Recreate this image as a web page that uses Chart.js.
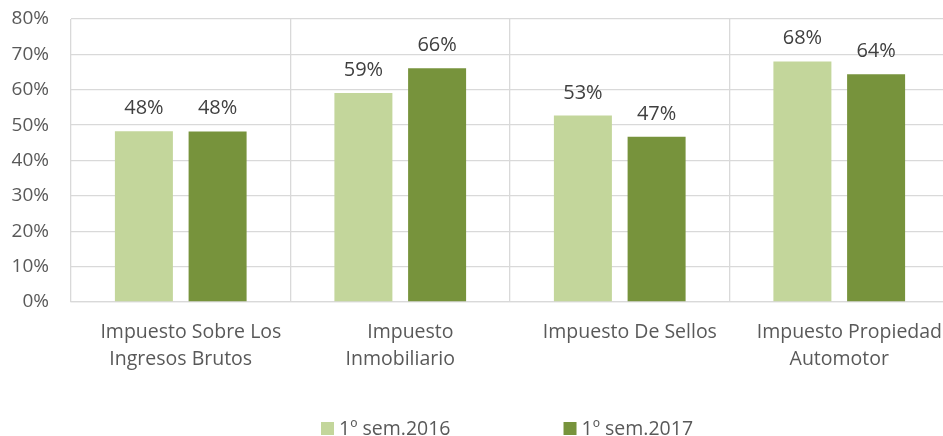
<!DOCTYPE html>
<html><head><meta charset="utf-8">
<script src="https://cdn.jsdelivr.net/npm/chart.js@4/dist/chart.umd.min.js"></script>
<style>
html,body{margin:0;padding:0;overflow:hidden;background:#fff;width:943px;height:436px}
canvas{display:block}
</style></head>
<body>
<canvas id="c" width="952" height="436"></canvas>
<script>
// ---- data ----
const categories = [
  ["Impuesto Sobre Los", "Ingresos Brutos"],
  ["Impuesto", "Inmobiliario"],
  ["Impuesto De Sellos"],
  ["Impuesto Propiedad", "Automotor"]
];
const seriesNames = ["1º sem.2016", "1º sem.2017"];
const values2016 = [48.3, 59.1, 52.7, 68.0];
const values2017 = [48.2, 66.1, 46.7, 64.4];
const yTickMax = 80;
const yTickStep = 10;

// ---- style ----
const FONT = '"Open Sans"';
const GRID = '#d9d9d9';
const COLORS = ['#c3d69b', '#77933c'];

const valueLabels = {
  id: 'valueLabels',
  afterDatasetsDraw(chart) {
    const ctx = chart.ctx;
    ctx.save();
    ctx.font = '20px ' + FONT;
    ctx.fillStyle = '#404040';
    ctx.textAlign = 'center';
    ctx.textBaseline = 'alphabetic';
    chart.data.datasets.forEach((ds, i) => {
      chart.getDatasetMeta(i).data.forEach((bar, j) => {
        ctx.fillText(Math.round(ds.data[j]) + '%', bar.x, bar.y - 17);
      });
    });
    ctx.restore();
  }
};

const bottomLegend = {
  id: 'bottomLegend',
  afterDraw(chart) {
    const ctx = chart.ctx;
    const ca = chart.chartArea;
    ctx.save();
    ctx.font = '19.5px ' + FONT;
    const box = 13, gapText = 5, gapItems = 113;
    const items = chart.data.datasets.map(ds => ({label: ds.label, color: ds.backgroundColor, w: ctx.measureText(ds.label).width}));
    let x = (ca.left + ca.right) / 2 - 189;
    const yMid = 428.5;
    ctx.textBaseline = 'middle';
    ctx.textAlign = 'left';
    items.forEach(it => {
      ctx.fillStyle = it.color;
      ctx.fillRect(x, yMid - box / 2, box, box);
      ctx.fillStyle = '#595959';
      ctx.fillText(it.label, x + box + gapText, yMid + 1);
      x += box + gapText + it.w + gapItems;
    });
    ctx.restore();
  }
};

Chart.defaults.font.family = FONT;
Chart.defaults.font.size = 19;
Chart.defaults.color = '#595959';

new Chart(document.getElementById('c'), {
  type: 'bar',
  data: {
    labels: categories,
    datasets: [
      {label: seriesNames[0], data: values2016, backgroundColor: COLORS[0], borderWidth: 0},
      {label: seriesNames[1], data: values2017, backgroundColor: COLORS[1], borderWidth: 0}
    ]
  },
  options: {
    responsive: false,
    animation: false,
    devicePixelRatio: 1,
    categoryPercentage: 0.6715,
    barPercentage: 0.787,
    layout: {padding: {top: 19, right: 3, bottom: 0, left: 0}},
    plugins: {legend: {display: false}, tooltip: {enabled: false}},
    scales: {
      x: {
        grid: {color: GRID, lineWidth: 1.3, drawTicks: true, tickLength: 17, tickColor: 'rgba(0,0,0,0)', offset: true},
        border: {color: GRID, width: 1.3},
        ticks: {
          padding: 0, maxRotation: 0, autoSkip: false, color: '#595959',
          font: {size: 19.5, lineHeight: 1.38},
          callback: function(v, i) {
            const l = this.getLabelForValue(v);
            const lines = Array.isArray(l) ? l.slice() : [l];
            lines[0] = '    ' + lines[0];
            return lines;
          }
        },
        afterFit: s => { s.height = 134; }
      },
      y: {
        min: 0, max: yTickMax,
        grid: {color: GRID, lineWidth: 1.3, drawTicks: true, tickLength: 22, tickColor: 'rgba(0,0,0,0)'},
        border: {display: false},
        ticks: {stepSize: yTickStep, padding: 0, color: '#595959', font: {size: 19},
          callback: v => v + '%'},
        afterFit: s => { s.width = 71; }
      }
    }
  },
  plugins: [valueLabels, bottomLegend]
});
</script>
</body></html>
